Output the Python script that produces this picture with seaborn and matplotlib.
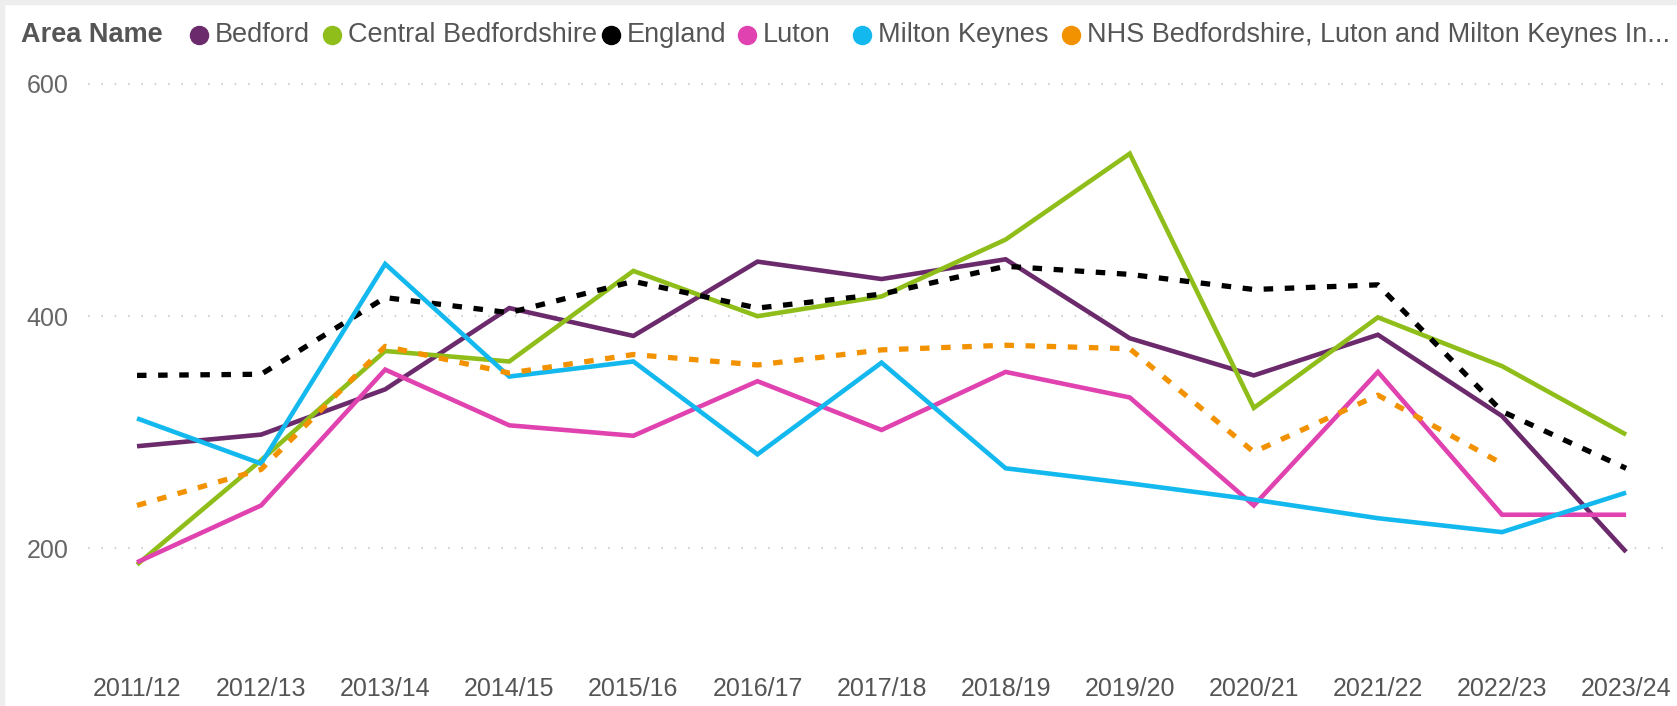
import numpy as np
import pandas as pd
import matplotlib
matplotlib.use("Agg")
import matplotlib.pyplot as plt
from matplotlib.lines import Line2D
from matplotlib.patches import Rectangle
import seaborn as sns

# 数据
years = ['2011/12', '2012/13', '2013/14', '2014/15', '2015/16', '2016/17', '2017/18',
         '2018/19', '2019/20', '2020/21', '2021/22', '2022/23', '2023/24']
bedford = [288, 298, 337, 407, 383, 447, 432, 449, 381, 349, 384, 314, 197]
central_beds = [186, 276, 370, 361, 439, 400, 417, 466, 540, 321, 399, 357, 298]
england = [349, 350, 416, 403, 430, 407, 419, 443, 436, 423, 427, 318, 269]
luton = [188, 237, 354, 306, 297, 344, 302, 352, 330, 237, 352, 229, 229]
milton_keynes = [312, 273, 445, 348, 361, 281, 360, 269, 256, 242, 226, 214, 248]
nhs_blmk = [237, 268, 374, 351, 367, 358, 371, 375, 372, 283, 332, 273, np.nan]

areas = ['Bedford', 'Central Bedfordshire', 'England', 'Luton', 'Milton Keynes',
         'NHS Bedfordshire, Luton and Milton Keynes Integrated Care Board']
series = [bedford, central_beds, england, luton, milton_keynes, nhs_blmk]
colors = ['#6b2a6b', '#8fbe1a', '#000000', '#e043b0', '#13b9ee', '#f39200']
legend_labels = ['Bedford', 'Central Bedfordshire', 'England', 'Luton', 'Milton Keynes',
                 'NHS Bedfordshire, Luton and Milton Keynes In...']

rows = []
for area, vals in zip(areas, series):
    for y, v in zip(years, vals):
        rows.append({'year': y, 'value': v, 'area': area})
df = pd.DataFrame(rows)

sns.set_style('white')
plt.rcParams['font.family'] = ['Liberation Sans', 'DejaVu Sans']

W, H = 1677, 706
fig = plt.figure(figsize=(W / 100, H / 100), dpi=100)
fig.patch.set_facecolor('white')

ax = fig.add_axes([88 / W, 41.5 / H, (1672 - 88) / W, (664.5 - 80.5) / H])

palette = dict(zip(areas, colors))
dashes = {a: '' for a in areas}
dashes['England'] = (1.8, 2.2)
dashes[areas[-1]] = (1.8, 2.2)

sns.lineplot(data=df, x='year', y='value', hue='area', style='area',
             hue_order=areas, style_order=areas, palette=palette, dashes=dashes,
             sort=False, linewidth=3.3, legend=False, ax=ax)

for line in ax.lines:
    line.set_solid_capstyle('butt')
    line.set_dash_capstyle('butt')
    line.set_solid_joinstyle('miter')
    if line.get_linestyle() != '-':
        line.set_linewidth(3.8)

ax.set_xlim(-0.395, 12.37)
ax.set_ylim(100, 603)
ax.set_yticks([200, 400, 600])
ax.set_xlabel('')
ax.set_ylabel('')
for s in ax.spines.values():
    s.set_visible(False)
ax.grid(axis='y', color='#c8c8c8', linestyle=(0, (1, 7)), linewidth=1.2)
ax.grid(axis='x', visible=False)
ax.set_axisbelow(True)
ax.tick_params(axis='x', labelsize=18, colors='#555555', length=0, pad=9)
ax.tick_params(axis='y', labelsize=18, colors='#666666', length=0, pad=14)

# 图例（手动排布，仿 Power BI，图标位置取自参考图）
fig.canvas.draw()
renderer = fig.canvas.get_renderer()
y_leg = 1 - 35 / H
fig.text(21 / W, y_leg, 'Area Name', fontsize=19.5, fontweight='bold',
         color='#555555', ha='left', va='center')
marker_px = [199, 332, 611, 747, 862, 1071]
for lab, col, mx in zip(legend_labels, colors, marker_px):
    fig.add_artist(Line2D([mx / W], [y_leg], marker='o', markersize=13,
                          color=col, linestyle='none', transform=fig.transFigure))
    t = fig.text((mx + 16) / W, y_leg, lab, fontsize=19.5, color='#555555',
                 ha='left', va='center')
    # 最后一项过长时缩小字号
    ext = t.get_window_extent(renderer)
    if ext.x1 > W - 6:
        t.set_fontsize(19.5 * (W - 6 - ext.x0) / ext.width)

# 边框（左侧和顶部的浅灰条）
fig.add_artist(Rectangle((0, 1 - 4 / H), 1, 4 / H, transform=fig.transFigure,
                         color='#eeeeee', zorder=0))
fig.add_artist(Rectangle((0, 0), 4 / W, 1, transform=fig.transFigure,
                         color='#eeeeee', zorder=0))

fig.savefig('out.png', dpi=100)
